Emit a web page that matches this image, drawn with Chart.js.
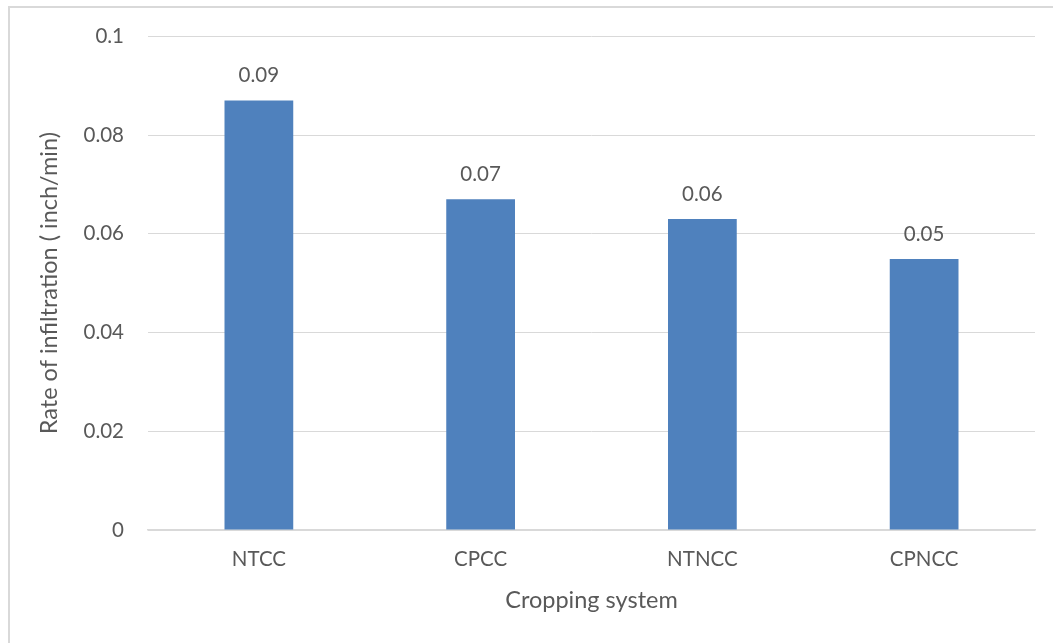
<!DOCTYPE html>
<html>
<head>
<meta charset="utf-8">
<script src="https://cdn.jsdelivr.net/npm/chart.js@4.4.1/dist/chart.umd.min.js"></script>
<style>
  html, body { margin: 0; padding: 0; background: #ffffff; }
  #wrap { position: relative; width: 1053px; height: 643px; overflow: hidden; }
  #frame { position: absolute; left: 8px; top: 6px; width: 1100px; height: 700px;
           border: 2px solid #d9d9d9; box-sizing: border-box; }
  canvas { position: absolute; left: 0; top: 0; }
</style>
</head>
<body>
<div id="wrap">
  <div id="frame"></div>
  <canvas id="chart" width="1053" height="643"></canvas>
</div>
<script>
// Infiltration rate by cropping system
const categories = ['NTCC', 'CPCC', 'NTNCC', 'CPNCC'];
const infiltrationRate = [0.087, 0.067, 0.063, 0.0549];
const yTicks = [0, 0.02, 0.04, 0.06, 0.08, 0.1];
const yTickLabels = ['0', '0.02', '0.04', '0.06', '0.08', '0.1'];

const FONT = 'Lato, "Open Sans", sans-serif';
const TEXT = '#595959';

// Writes each bar's value, rounded to two decimals, above the bar
const valueLabels = {
  id: 'valueLabels',
  afterDatasetsDraw(chart) {
    const ctx = chart.ctx;
    const meta = chart.getDatasetMeta(0);
    ctx.save();
    ctx.font = '20.5px ' + FONT;
    ctx.fillStyle = TEXT;
    ctx.textAlign = 'center';
    ctx.textBaseline = 'middle';
    meta.data.forEach((bar, i) => {
      const v = chart.data.datasets[0].data[i];
      ctx.fillText(v.toFixed(2), bar.x, bar.y - 25);
    });
    ctx.restore();
  }
};

new Chart(document.getElementById('chart'), {
  type: 'bar',
  data: {
    labels: categories,
    datasets: [{
      data: infiltrationRate,
      backgroundColor: '#4F81BD',
      borderWidth: 0,
      categoryPercentage: 1,
      barPercentage: 0.31
    }]
  },
  options: {
    responsive: false,
    animation: false,
    devicePixelRatio: 1,
    layout: { padding: { left: 0, right: 18, top: 36, bottom: 0 } },
    plugins: { legend: { display: false }, tooltip: { enabled: false } },
    scales: {
      x: {
        grid: { display: false, drawTicks: false },
        border: { display: true, color: '#d9d9d9', width: 1.5 },
        ticks: { color: TEXT, font: { family: FONT, size: 20.5 }, padding: 17 },
        title: {
          display: true, text: 'Cropping system', color: TEXT,
          font: { family: FONT, size: 23.5 }, padding: { top: 0, bottom: 28 }
        },
        afterFit(scale) { scale.height = 113; }
      },
      y: {
        min: 0, max: 0.1,
        afterBuildTicks(scale) { scale.ticks = yTicks.map(v => ({ value: v })); },
        grid: { color: '#d9d9d9', lineWidth: 1, drawTicks: false },
        border: { display: false },
        ticks: {
          color: TEXT, font: { family: FONT, size: 20.5 }, padding: 24,
          callback(value, index) { return yTickLabels[index]; }
        },
        title: {
          display: true, text: 'Rate of infiltration ( inch/min)', color: TEXT,
          font: { family: FONT, size: 23.5 }, padding: { top: 35, bottom: 0 }
        },
        afterFit(scale) { scale.width = 148; }
      }
    }
  },
  plugins: [valueLabels]
});
</script>
</body>
</html>
